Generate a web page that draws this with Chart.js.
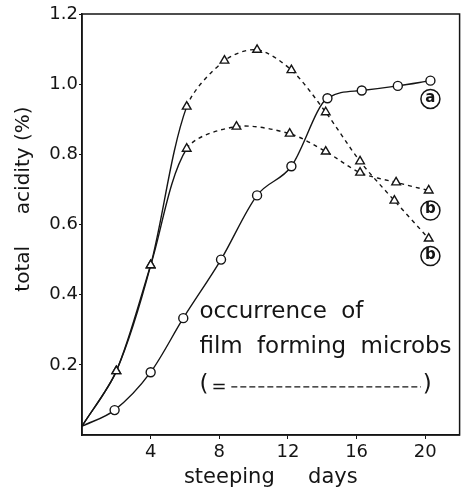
<!DOCTYPE html>
<html lang="en">
<head>
<meta charset="UTF-8">
<title>total acidity</title>
<script src="https://cdn.jsdelivr.net/npm/chart.js@4.4.1/dist/chart.umd.min.js"></script>
<style>
  html, body { margin: 0; padding: 0; background: #fff; }
</style>
</head>
<body>
<canvas id="acidChart" width="466" height="491"></canvas>
<script>
// steeping days vs total acidity (%)
const daysA  = [0, 1.9, 4, 5.9, 8.1, 10.2, 12.2, 14.3, 16.3, 18.4, 20.3];
const acidA  = [0.025, 0.071, 0.179, 0.333, 0.50, 0.683, 0.766, 0.96, 0.982, 0.995, 1.01];

const daysB1 = [0, 2, 4, 6.1, 8.3, 10.2, 12.2, 14.2, 16.2, 18.2, 20.2];
const acidB1 = [0.025, 0.182, 0.484, 0.936, 1.067, 1.098, 1.04, 0.92, 0.78, 0.668, 0.56];

const daysB2 = [0, 2, 4, 6.1, 9.0, 12.1, 14.2, 16.2, 18.3, 20.2];
const acidB2 = [0.025, 0.182, 0.484, 0.816, 0.879, 0.859, 0.808, 0.748, 0.72, 0.697];

const xTicks = [4, 8, 12, 16, 20];
const yTicks = [0.2, 0.4, 0.6, 0.8, 1.0, 1.2];

// film forming microbs show up from about day 6 -> b curves dashed from there
const filmDay = 5.95;

const ink = '#151515';

function pts(xs, ys) {
  return xs.map((d, i) => ({ x: d, y: ys[i] }));
}

function curve(data, style, dashed) {
  const ds = {
    data: data,
    borderColor: ink,
    borderWidth: 1.4,
    backgroundColor: '#fff',
    pointBackgroundColor: '#fff',
    pointBorderColor: ink,
    pointBorderWidth: 1.4,
    pointStyle: style,
    pointRadius: c => c.dataIndex === 0 ? 0 : (style === 'triangle' ? 5 : 4.5)
  };
  if (dashed) {
    ds.tension = 0.3;
    ds.segment = { borderDash: c => c.p0.parsed.x >= filmDay ? [4, 4] : undefined };
  } else {
    ds.cubicInterpolationMode = 'monotone';
  }
  return ds;
}

// circled letters beside the curve ends
const tags = [
  { text: 'a', day: 20.3, val: 0.958 },
  { text: 'b', day: 20.3, val: 0.64 },
  { text: 'b', day: 20.3, val: 0.51 }
];

const notes = {
  id: 'notes',
  afterDraw(chart) {
    const { ctx, chartArea: ca, scales: { x, y } } = chart;
    ctx.save();
    ctx.strokeStyle = ink;
    ctx.fillStyle = ink;
    ctx.lineWidth = 1.5;
    ctx.strokeRect(ca.left, ca.top, ca.right - ca.left, ca.bottom - ca.top);

    ctx.textAlign = 'center';
    ctx.textBaseline = 'middle';
    ctx.font = 'bold 15px "DejaVu Sans"';
    tags.forEach(t => {
      const px = x.getPixelForValue(t.day), py = y.getPixelForValue(t.val);
      ctx.beginPath();
      ctx.arc(px, py, 9.5, 0, Math.PI * 2);
      ctx.stroke();
      ctx.fillText(t.text, px, py - 1);
    });

    // note about the dashed parts
    ctx.textAlign = 'left';
    ctx.font = '23px "DejaVu Sans"';
    ctx.wordSpacing = '7px';
    const lx = x.getPixelForValue(6.84);
    ctx.fillText('occurrence of', lx, y.getPixelForValue(0.35));
    ctx.fillText('film forming microbs', lx, y.getPixelForValue(0.25));
    const ry = y.getPixelForValue(0.143);
    ctx.fillText('(', lx, ry);
    ctx.font = '18px "DejaVu Sans"';
    ctx.fillText('=', x.getPixelForValue(7.55), ry + 2);
    ctx.font = '23px "DejaVu Sans"';
    ctx.fillText(')', x.getPixelForValue(19.85), ry);
    ctx.lineWidth = 1.4;
    ctx.setLineDash([6, 3]);
    ctx.beginPath();
    ctx.moveTo(x.getPixelForValue(8.7), ry + 2);
    ctx.lineTo(x.getPixelForValue(19.75), ry + 2);
    ctx.stroke();
    ctx.restore();
  }
};

new Chart(document.getElementById('acidChart'), {
  type: 'line',
  data: {
    datasets: [
      curve(pts(daysA, acidA), 'circle', false),
      curve(pts(daysB1, acidB1), 'triangle', true),
      curve(pts(daysB2, acidB2), 'triangle', true)
    ]
  },
  options: {
    responsive: false,
    animation: false,
    layout: { padding: { top: 14, right: 4, left: 0, bottom: 0 } },
    plugins: { legend: { display: false }, tooltip: { enabled: false } },
    scales: {
      x: {
        type: 'linear',
        min: 0,
        max: 22,
        afterBuildTicks: s => { s.ticks = xTicks.map(v => ({ value: v })); },
        afterFit: s => { s.height = 56; },
        grid: { display: true, drawOnChartArea: false, tickLength: 4, color: ink },
        border: { color: ink, width: 1.5 },
        ticks: { color: ink, font: { family: 'DejaVu Sans', size: 18 }, padding: 3 },
        title: {
          display: true,
          text: 'steeping     days',
          color: ink,
          font: { family: 'DejaVu Sans', size: 21 },
          padding: { top: 0, bottom: 1 }
        }
      },
      y: {
        min: 0,
        max: 1.2,
        afterBuildTicks: s => { s.ticks = yTicks.map(v => ({ value: v })); },
        afterFit: s => { s.width = 82; },
        grid: { display: true, drawOnChartArea: false, tickLength: 3, color: ink },
        border: { color: ink, width: 1.5 },
        ticks: {
          color: ink,
          font: { family: 'DejaVu Sans', size: 18 },
          padding: 1,
          callback: v => v.toFixed(1)
        },
        title: {
          display: true,
          text: '        total     acidity (%)',
          color: ink,
          font: { family: 'DejaVu Sans', size: 20 },
          padding: { top: 12, bottom: 0 }
        }
      }
    }
  },
  plugins: [notes]
});
</script>
</body>
</html>
